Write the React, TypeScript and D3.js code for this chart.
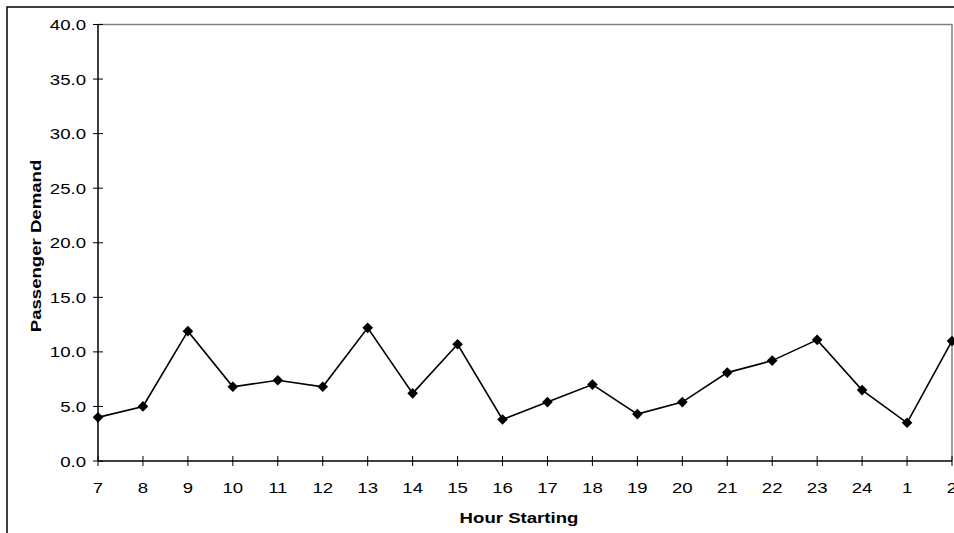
import React, { useEffect, useRef } from 'react';
import * as d3 from 'd3';

const hours = ['7', '8', '9', '10', '11', '12', '13', '14', '15', '16', '17', '18', '19', '20', '21', '22', '23', '24', '1', '2'];
const demand = [4.0, 5.0, 11.9, 6.8, 7.4, 6.8, 12.2, 6.2, 10.7, 3.8, 5.4, 7.0, 4.3, 5.4, 8.1, 9.2, 11.1, 6.5, 3.5, 11.0];
const yTicks = [0, 5, 10, 15, 20, 25, 30, 35, 40];

const width = 954;
const height = 533;
const font = '"Liberation Sans", Arial, sans-serif';
const stretch = 1.2;

function App() {
  const ref = useRef<SVGSVGElement>(null);

  useEffect(() => {
    document.body.style.margin = '0';
    drawChart();
  }, []);

  function drawChart() {
    const svg = d3.select(ref.current);
    svg.selectAll('*').remove();

    const plot = { left: 98, right: 952, top: 24.5, bottom: 461 };

    const x = d3.scalePoint<string>().domain(hours).range([plot.left, plot.right]);
    const y = d3.scaleLinear().domain([0, 40]).range([plot.bottom, plot.top]);

    // outer chart frame
    svg.append('rect')
      .attr('x', 7).attr('y', 7)
      .attr('width', width + 10).attr('height', height + 10)
      .attr('fill', 'white')
      .attr('stroke', '#000').attr('stroke-width', 1.5);

    // plot area border (top and right in gray)
    svg.append('path')
      .attr('d', `M${plot.left},${plot.top}H${plot.right}V${plot.bottom}`)
      .attr('fill', 'none')
      .attr('stroke', '#808080')
      .attr('stroke-width', 1.5);

    // y axis
    svg.append('line')
      .attr('x1', plot.left).attr('x2', plot.left)
      .attr('y1', plot.top).attr('y2', plot.bottom)
      .attr('stroke', '#000').attr('stroke-width', 1.5);

    svg.selectAll('.ytick')
      .data(yTicks)
      .enter()
      .append('line')
      .attr('x1', plot.left - 5).attr('x2', plot.left + 5)
      .attr('y1', (d) => y(d)).attr('y2', (d) => y(d))
      .attr('stroke', '#000').attr('stroke-width', 1);

    svg.selectAll('.ylabel')
      .data(yTicks)
      .enter()
      .append('text')
      .attr('transform', (d) => `translate(86, ${y(d) + 5.5}) scale(${stretch}, 1)`)
      .attr('text-anchor', 'end')
      .style('font-family', font)
      .style('font-size', '15.5px')
      .style('fill', '#000')
      .text((d) => d.toFixed(1));

    // x axis
    svg.append('line')
      .attr('x1', plot.left).attr('x2', plot.right)
      .attr('y1', plot.bottom).attr('y2', plot.bottom)
      .attr('stroke', '#000').attr('stroke-width', 1.5);

    svg.selectAll('.xtick')
      .data(hours)
      .enter()
      .append('line')
      .attr('x1', (d) => x(d)!).attr('x2', (d) => x(d)!)
      .attr('y1', plot.bottom - 5).attr('y2', plot.bottom + 5)
      .attr('stroke', '#000').attr('stroke-width', 1);

    svg.selectAll('.xlabel')
      .data(hours)
      .enter()
      .append('text')
      .attr('transform', (d) => `translate(${x(d)}, 492.5) scale(${stretch}, 1)`)
      .attr('text-anchor', 'middle')
      .style('font-family', font)
      .style('font-size', '15.5px')
      .style('fill', '#000')
      .text((d) => d);

    // axis titles
    svg.append('text')
      .attr('transform', `translate(519, 523) scale(${stretch}, 1)`)
      .attr('text-anchor', 'middle')
      .style('font-family', font)
      .style('font-size', '15.5px')
      .style('font-weight', 'bold')
      .text('Hour Starting');

    svg.append('text')
      .attr('transform', `translate(41, 246) rotate(-90) scale(${stretch}, 1)`)
      .attr('text-anchor', 'middle')
      .style('font-family', font)
      .style('font-size', '15.5px')
      .style('font-weight', 'bold')
      .text('Passenger Demand');

    // series line
    const line = d3.line<number>()
      .x((_, i) => x(hours[i])!)
      .y((d) => y(d));

    svg.append('path')
      .datum(demand)
      .attr('d', line)
      .attr('fill', 'none')
      .attr('stroke', '#000')
      .attr('stroke-width', 1.6);

    // diamond markers
    const diamond = d3.symbol().type(d3.symbolDiamond2).size(72);
    svg.selectAll('.marker')
      .data(demand)
      .enter()
      .append('path')
      .attr('d', diamond)
      .attr('transform', (d, i) => `translate(${x(hours[i])}, ${y(d)})`)
      .attr('fill', '#000');
  }

  return <svg ref={ref} width={width} height={height} style={{ display: 'block' }} />;
}

export default App;
